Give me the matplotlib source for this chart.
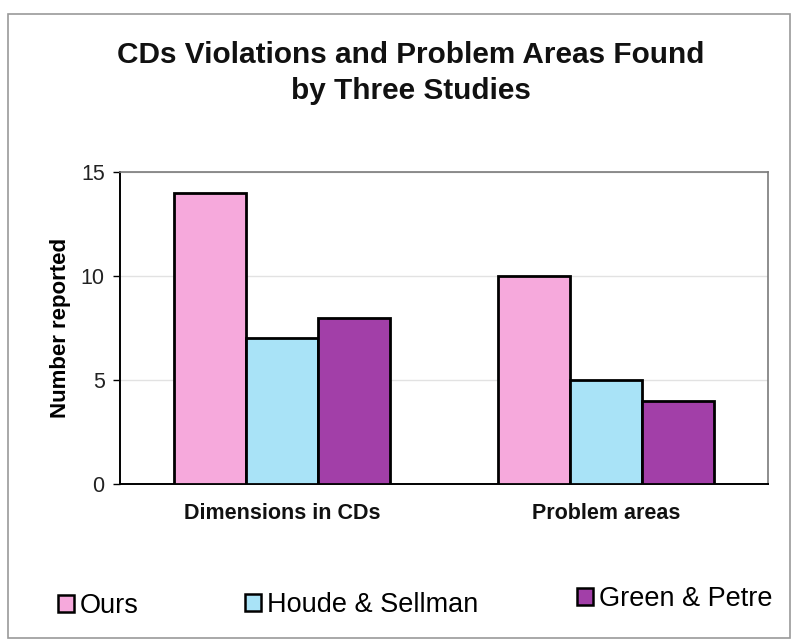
import matplotlib
matplotlib.use("Agg")
import matplotlib.pyplot as plt
from matplotlib.patches import Rectangle
import numpy as np

plt.rcParams['font.family'] = ['Liberation Sans', 'DejaVu Sans']

categories = ["Dimensions in CDs", "Problem areas"]
series_names = ["Ours", "Houde & Sellman", "Green & Petre"]
ours = [14, 10]
houde_sellman = [7, 5]
green_petre = [8, 4]
y_ticks = [0, 5, 10, 15]

values = [ours, houde_sellman, green_petre]
colors = ["#F6A9DC", "#A9E3F7", "#A23FA8"]

fig = plt.figure(figsize=(7.98, 6.44), dpi=100)
fig.patch.set_facecolor("white")

# outer chart frame
fig.patches.append(Rectangle((8 / 798, 1 - 638 / 644), 782 / 798, 624 / 644,
                             transform=fig.transFigure, fill=False,
                             edgecolor="#9a9a9a", linewidth=1.2))

ax = fig.add_axes([120 / 798, 1 - 484 / 644, 648 / 798, 312 / 644])

x = np.arange(len(categories))
width = 0.222
for i, (vals, col) in enumerate(zip(values, colors)):
    ax.bar(x + (i - 1) * width, vals, width, color=col, edgecolor="black",
           linewidth=2.0, zorder=3, label=series_names[i])

ax.set_xlim(-0.5, 1.5)
ax.set_ylim(0, 15)
ax.set_yticks(y_ticks)
ax.set_yticklabels([str(t) for t in y_ticks], fontsize=15.5, color="#222222")
ax.set_xticks(x)
ax.set_xticklabels(categories, fontsize=15.5, fontweight="bold", color="#111111")
ax.tick_params(axis="x", length=0, pad=14)
ax.tick_params(axis="y", length=5, width=1, direction="out", pad=6)
ax.yaxis.grid(True, color="#e2e2e2", linewidth=1.0, zorder=0)
ax.set_axisbelow(True)

for s in ["left", "bottom"]:
    ax.spines[s].set_linewidth(1.4)
    ax.spines[s].set_color("black")
for s in ["top", "right"]:
    ax.spines[s].set_linewidth(1.2)
    ax.spines[s].set_color("#7a7a7a")

ax.set_ylabel("Number reported", fontsize=16, fontweight="bold", labelpad=7)

# two-line title
title_lines = ["CDs Violations and Problem Areas Found", "by Three Studies"]
for line, yb in zip(title_lines, [63, 99]):
    fig.text(411 / 798, 1 - yb / 644, line, ha="center", va="baseline",
             fontsize=21.4, fontweight="bold", color="#111111")

# legend entries placed along the bottom of the frame
handles = [Rectangle((0, 0), 1, 1, facecolor=c, edgecolor="black", linewidth=1.8)
           for c in colors]
legend_x = [58, 245, 577]
legend_y = [606, 605, 599]
for h, name, lx, ly in zip(handles, series_names, legend_x, legend_y):
    fig.legend([h], [name], loc="center left",
               bbox_to_anchor=(lx / 798, 1 - ly / 644),
               frameon=False, fontsize=19.5, handlelength=0.6, handleheight=0.6,
               handletextpad=0.2, borderaxespad=0, borderpad=0)

fig.savefig("out.png", dpi=100, facecolor="white")
